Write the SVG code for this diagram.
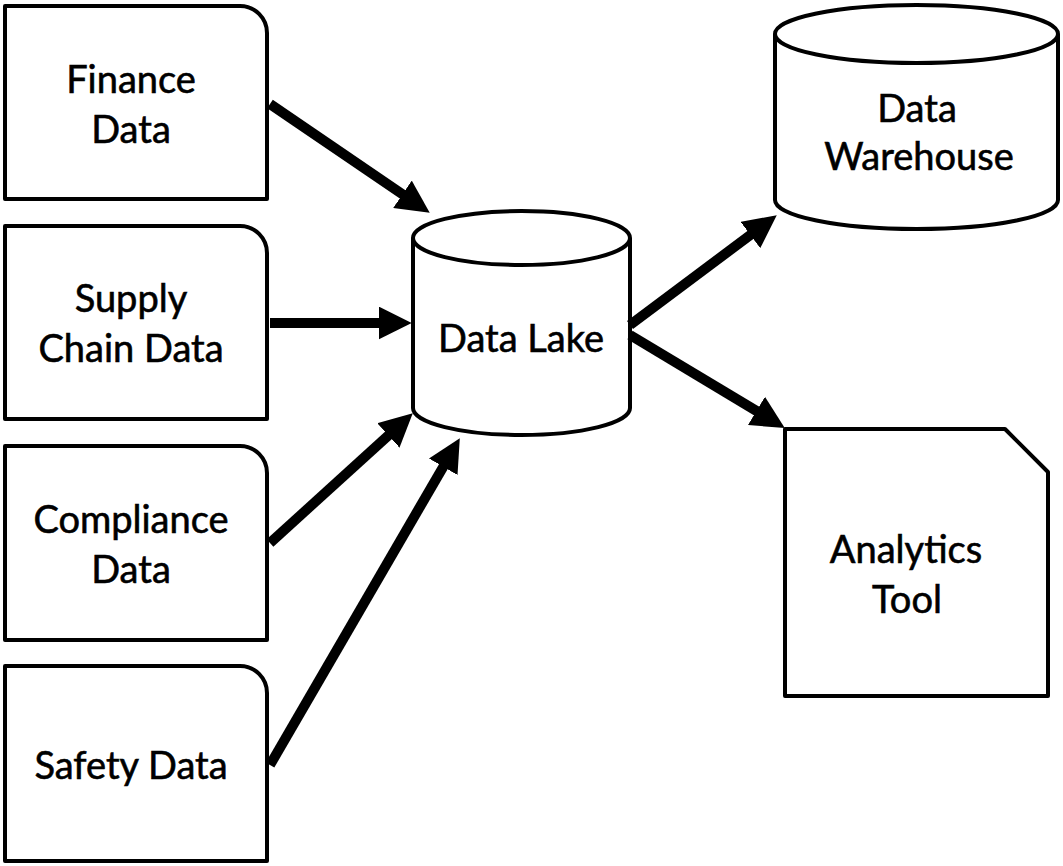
<svg xmlns="http://www.w3.org/2000/svg" width="1063" height="866" viewBox="0 0 1063 866">
<style>
.shape{fill:#fff;stroke:#000;stroke-width:4;stroke-linejoin:round}
.lbl{font-family:Lato,"Open Sans","Liberation Sans",sans-serif;font-size:38px;fill:#000;stroke:#000;stroke-width:0.6;text-anchor:middle}
.conn{stroke:#000;stroke-width:10;fill:none;marker-end:url(#ah)}
</style>
<defs>
<marker id="ah" viewBox="0 0 10 10" refX="1" refY="5" markerWidth="3.3" markerHeight="3.3" orient="auto">
<path d="M0,0 L10,5 L0,10 Z" fill="#000"/>
</marker>
</defs>
<rect width="1063" height="866" fill="#fff"/>
<g id="finance">
<path class="shape" d="M5,6 L240,6 A27,27 0 0 1 267,33 L267,199 L5,199 Z"/>
<text class="lbl" x="131" y="93">Finance</text>
<text class="lbl" x="131" y="143">Data</text>
</g>
<g id="supply">
<path class="shape" d="M5,226 L240,226 A27,27 0 0 1 267,253 L267,419 L5,419 Z"/>
<text class="lbl" x="131" y="312">Supply</text>
<text class="lbl" x="131" y="362">Chain Data</text>
</g>
<g id="compliance">
<path class="shape" d="M5,446 L240,446 A27,27 0 0 1 267,473 L267,640 L5,640 Z"/>
<text class="lbl" x="131" y="533">Compliance</text>
<text class="lbl" x="131" y="583">Data</text>
</g>
<g id="safety">
<path class="shape" d="M5,666 L240,666 A27,27 0 0 1 267,693 L267,861 L5,861 Z"/>
<text class="lbl" x="131" y="779">Safety Data</text>
</g>
<g id="datalake">
<path class="shape" d="M413,238 L413,408 A108.5,27 0 0 0 630,408 L630,238"/>
<ellipse class="shape" cx="521.5" cy="238" rx="108.5" ry="27"/>
<text class="lbl" x="521" y="352">Data Lake</text>
</g>
<g id="warehouse">
<path class="shape" d="M775,34 L775,200 A141.5,29 0 0 0 1058,200 L1058,34"/>
<ellipse class="shape" cx="916.5" cy="34" rx="141.5" ry="29"/>
<text class="lbl" x="917" y="122">Data</text>
<text class="lbl" x="919" y="170">Warehouse</text>
</g>
<g id="analytics">
<path class="shape" d="M785,429 L1005,429 L1048,472 L1048,696 L785,696 Z"/>
<text class="lbl" x="906" y="563">Analytics</text>
<text class="lbl" x="907" y="613">Tool</text>
</g>
<g id="connectors">
<line class="conn" x1="270" y1="104" x2="405.2" y2="196.1"/>
<line class="conn" x1="270" y1="323" x2="382" y2="323"/>
<line class="conn" x1="270" y1="543" x2="390.8" y2="433.2"/>
<line class="conn" x1="270" y1="765" x2="444.9" y2="463.9"/>
<line class="conn" x1="630" y1="325" x2="753" y2="233"/>
<line class="conn" x1="630" y1="335" x2="759.3" y2="412.6"/>
</g>
</svg>
